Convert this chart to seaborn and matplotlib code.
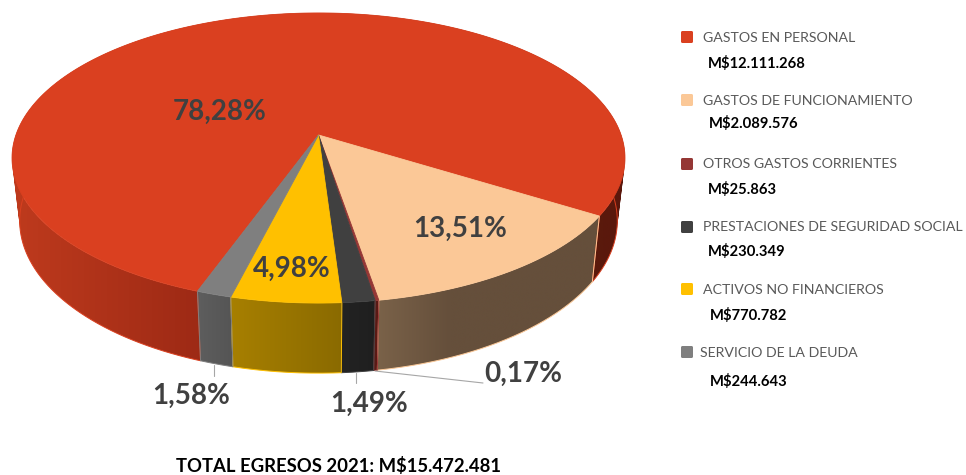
import numpy as np
import matplotlib
matplotlib.use("Agg")
import matplotlib.pyplot as plt
import seaborn as sns
from matplotlib.patches import FancyBboxPatch, PathPatch
from matplotlib.path import Path
from matplotlib.transforms import Transform, Affine2D
from matplotlib.colors import to_rgb

# ---- data ----
categories = ["GASTOS EN PERSONAL", "GASTOS DE FUNCIONAMIENTO", "OTROS GASTOS CORRIENTES",
              "PRESTACIONES DE SEGURIDAD SOCIAL", "ACTIVOS NO FINANCIEROS", "SERVICIO DE LA DEUDA"]
values = [12111268, 2089576, 25863, 230349, 770782, 244643]
amount_labels = ["M$12.111.268", "M$2.089.576", "M$25.863", "M$230.349", "M$770.782", "M$244.643"]
pct_labels = ["78,28%", "13,51%", "0,17%", "1,49%", "4,98%", "1,58%"]
title = "TOTAL EGRESOS 2021: M$15.472.481"

# ---- style ----
top_colors = ["#DA4020", "#FBC897", "#953735", "#404040", "#FFC000", "#7F7F7F"]
side_stops = [
    [(15, "#BE3A1D"), (197, "#9E2A15"), (590, "#5A1A0C"), (630, "#5A170C")],
    [(378, "#7A6249"), (450, "#654F3B"), (600, "#654F3B")],
    [(370, "#5A1A15"), (380, "#5A1A15")],
    [(340, "#232323"), (378, "#1F1F1F")],
    [(228, "#A88000"), (342, "#8A6A00")],
    [(197, "#5E5E5E"), (232, "#555555")],
]
pct_pos = [(219.5, 112), (460, 229), (523, 374), (369, 404), (291.5, 269), (191, 396)]
legend_y = [38, 101, 164, 227, 290, 353]
legend_x = [703, 703, 703, 703, 703, 700]
square_y = [37, 100, 164, 227, 289, 352]
amount_x = [708, 709, 707.5, 708, 709.5, 709.5]
amount_y = [64, 124, 189, 251, 315, 381]

sns.set_theme(style="white")
FONT = "Lato"
palette = sns.color_palette(top_colors)

# perspective of the disc, in figure pixels
CX, CY, A, B, K = 318.5, 135.0, 302.6, 141.4, 0.1586
DEPTH, SHRINK_X, GROW_Y = 61.7, 0.025, 0.05
START = 250.1


def project(u, v, z=0.0):
    d = 1 + K * v
    return (CX + (1 - SHRINK_X * z) * A * u / d,
            CY + DEPTH * z - (1 + GROW_Y * z) * B * v / d)


class DiscTransform(Transform):
    input_dims = output_dims = 2
    is_separable = False
    has_inverse = False

    def transform_non_affine(self, xy):
        xy = np.asarray(xy, float)
        x, y = project(xy[:, 0], xy[:, 1])
        return np.column_stack([x, y])

    def transform_path_non_affine(self, path):
        polys = path.transformed(Affine2D().scale(2000)).to_polygons(closed_only=True)
        verts = np.vstack(polys) / 2000.0
        return Path(self.transform_non_affine(verts), closed=True)


def quad(xa, ya, xb, yb, xc, yc, xd, yd):
    pts = [(xa, ya), (xb, yb), (xc, yc), (xd, yd)]
    p = np.array(pts)
    area = np.sum(p[:, 0] * np.roll(p[:, 1], -1) - np.roll(p[:, 0], -1) * p[:, 1])
    if area < 0:
        p = p[::-1]
    return Path(np.vstack([p, p[:1]]), closed=True)


fig = plt.figure(figsize=(9.66, 4.75), dpi=100, facecolor="white")
ax = fig.add_axes([0, 0, 1, 1])

wedges, _ = ax.pie(values, colors=palette, startangle=START, counterclock=False,
                   radius=1.0, center=(0, 0),
                   wedgeprops=dict(linewidth=0.6))

disc = DiscTransform()
for wedge, col in zip(wedges, top_colors):
    wedge.set_transform(disc + ax.transData)
    wedge.set_edgecolor(col)
    wedge.set_zorder(5)

# side wall of every slice: swept between the top and the bottom outline of the disc
for wedge, stops, col in zip(wedges, side_stops, top_colors):
    th = np.radians(np.linspace(wedge.theta1, wedge.theta2, 360))
    xt, yt = project(np.cos(th), np.sin(th), 0.0)
    xb, yb = project(np.cos(th), np.sin(th), 1.0)
    strips = [quad(xt[i], yt[i], xt[i + 1], yt[i + 1], xb[i + 1], yb[i + 1], xb[i], yb[i])
              for i in range(len(th) - 1)]
    sweep = Path.make_compound_path(*strips)
    x0, x1 = min(xt.min(), xb.min()), max(xt.max(), xb.max())
    y0, y1 = min(yt.min(), yb.min()), max(yt.max(), yb.max())
    xs = np.linspace(x0, x1, 400)
    sx = [s[0] for s in stops]
    rgb = np.array([to_rgb(s[1]) for s in stops])
    grad = np.stack([np.interp(xs, sx, rgb[:, i]) for i in range(3)], axis=-1)[None, :, :]
    im = ax.imshow(grad, extent=(x0, x1, y1, y0), aspect="auto", zorder=2,
                   interpolation="bilinear")
    clip = PathPatch(sweep, transform=ax.transData, facecolor="none", edgecolor="none")
    ax.add_patch(clip)
    im.set_clip_path(clip)
    # thin outline in the slice colour: both ends and the lower arc
    ax.plot(np.r_[xt[0], xb, xt[-1]], np.r_[yt[0], yb, yt[-1]], color=col, lw=0.7, zorder=3)

ax.set_aspect("auto")
ax.set_xlim(0, 966)
ax.set_ylim(475, 0)
ax.axis("off")

# leader lines
for xs, ys in [((214, 214), (365, 376)), ((355.5, 355.5), (373, 383)), ((375, 483), (371, 383))]:
    ax.plot(xs, ys, color="#A6A6A6", lw=0.8, zorder=4)

# percentage labels
for label, (x, y) in zip(pct_labels, pct_pos):
    ax.text(x, y, label, family=FONT, fontsize=20, fontweight="bold", color="#404040",
            ha="center", va="center", zorder=6)

# legend
for col, name, amount, y, sy, x, ax_, ay in zip(top_colors, categories, amount_labels, legend_y,
                                                square_y, legend_x, amount_x, amount_y):
    ax.add_patch(FancyBboxPatch((681, sy - 6), 12, 12, boxstyle="round,pad=0,rounding_size=1.5",
                                facecolor=col, edgecolor="none", zorder=6))
    ax.text(x, y, name, family=FONT, fontsize=10.2, color="#595959", ha="left", va="center")
    ax.text(ax_, ay, amount, family=FONT, fontsize=10.6, fontweight="bold", color="black",
            ha="left", va="center")

ax.text(338.5, 465.5, title, family=FONT, fontsize=13.3, fontweight="bold", color="black",
        ha="center", va="center")

fig.savefig("out.png", dpi=100, facecolor="white")
